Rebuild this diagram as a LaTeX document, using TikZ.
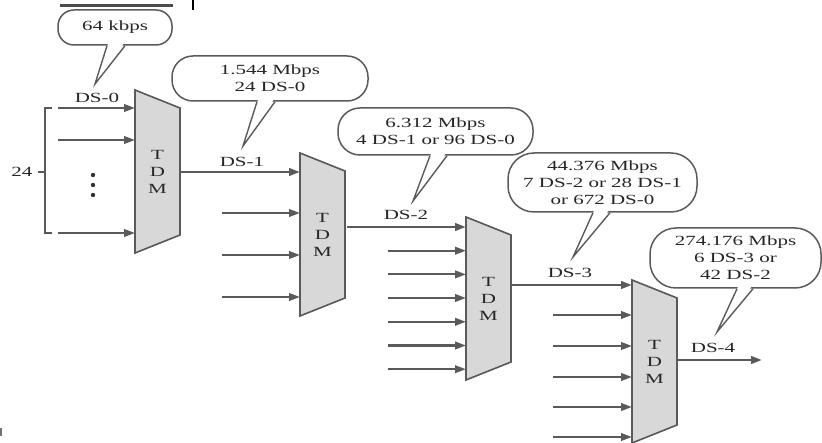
\documentclass[tikz,border=0pt]{standalone}
\usepackage{fontspec}
\setmainfont{Liberation Serif}
\usetikzlibrary{arrows.meta,calc}
\definecolor{ln}{HTML}{5A5A5A}
\definecolor{muxfill}{HTML}{D8D8D8}
\newcommand{\wt}[1]{\scalebox{1.5}[1]{#1}}
\newcommand{\tdm}[3]{%
  \draw[muxbody] (#2,#3) -- ++(45,18) -- ++(0,127) -- ++(-45,18) -- cycle;
  \node[txt] (#1) at ($(#2,#3)+(22.5,81.5)$) {\wt{T}\\\wt{D}\\\wt{M}};
}
\newcommand{\callptr}[3]{% callout name, base offsets, tip
  \fill[white] ($(#1.south)+(#2)+(1.2,-2.4)$) -- ($(#1.south)+(#3)+(-1.2,-2.4)$) -- (#1-tip) -- cycle;
  \draw[ptr] ($(#1.south)+(#2)$) -- (#1-tip) -- ($(#1.south)+(#3)$);
}
\begin{document}
\begin{tikzpicture}[x=1pt,y=-1pt,
  txt/.style={font=\fontsize{14}{17}\selectfont, inner sep=0pt, align=center, text=black!85},
  callout/.style={txt, draw=ln, line width=1.5pt, rounded corners=18pt, fill=white},
  muxbody/.style={draw=ln, fill=muxfill, line width=1.6pt, line join=miter},
  sig/.style={draw=ln, line width=2.2pt, -{Triangle[length=11pt,width=7.5pt]}},
  trunk/.style={sig, line width=2.6pt},
  ptr/.style={draw=ln, line width=1.4pt, line join=miter},
]
\useasboundingbox (0,0) rectangle (822,443);
\fill[white] (0,0) rectangle (822,443);

% stray marks at the edges of the scan
\draw[black!70, line width=3pt] (60,6) -- (173,6);
\draw[black, line width=2pt] (193,0) -- (193,10);
\draw[black!55, line width=1.5pt] (1,428) -- (1,436);

% multiplexers
\tdm{m1}{135}{90}
\tdm{m2}{300}{153}
\tdm{m3}{466}{217}
\tdm{m4}{632}{280}

% 24 DS-0 inputs
\draw[ln, line width=1.6pt] (52,108) -- (45,108) -- (45,233) -- (52,233);
\draw[ln, line width=1.4pt] (38,172) -- (45,172);
\node[txt] (n24) at (22,172) {\wt{24}};
\foreach \y [count=\i] in {108,140,233} {
  \coordinate (a\i) at (58,\y); \coordinate (b\i) at (135,\y);
  \draw[sig] (a\i) -- (b\i);
}
\foreach \y in {175,185,195} \fill[black!80] (93,\y) circle (2.2);

% mux 2 inputs
\coordinate (o1) at (180,172); \coordinate (i21) at (300,172);
\draw[trunk] (o1) -- (i21);
\foreach \y [count=\i] in {213,255,297} {
  \coordinate (c\i) at (222,\y); \coordinate (d\i) at (300,\y);
  \draw[sig] (c\i) -- (d\i);
}
% mux 3 inputs
\coordinate (o2) at (347,227); \coordinate (i31) at (466,227);
\draw[trunk] (o2) -- (i31);
\foreach \y [count=\i] in {250.7,274.4,298,321.8,345.5,369.2} {
  \coordinate (e\i) at (388,\y); \coordinate (f\i) at (466,\y);
  \draw[sig] (e\i) -- (f\i);
}
% mux 4 inputs
\coordinate (o3) at (512,285); \coordinate (i41) at (632,285);
\draw[trunk] (o3) -- (i41);
\foreach \y [count=\i] in {315,346,377,407,437} {
  \coordinate (g\i) at (553,\y); \coordinate (h\i) at (632,\y);
  \draw[sig] (g\i) -- (h\i);
}
% DS-4 output
\coordinate (o4) at (677,360); \coordinate (end4) at (762,360);
\draw[trunk] (o4) -- (end4);

% signal labels
\node[txt] (ds0) at (97,98) {\wt{DS-0}};
\node[txt] (ds1) at (242,162) {\wt{DS-1}};
\node[txt] (ds2) at (406,215) {\wt{DS-2}};
\node[txt] (ds3) at (570,273) {\wt{DS-3}};
\node[txt] (ds4) at (713,348) {\wt{DS-4}};

% callouts
\node[callout, rounded corners=16pt, minimum width=114pt, minimum height=35pt] (c1) at (115,27.5) {\wt{64 kbps}};
\node[callout, rounded corners=21pt, minimum width=196pt, minimum height=45pt] (c2) at (270,78.5) {\wt{1.544 Mbps}\\\wt{24 DS-0}};
\node[callout, rounded corners=22pt, minimum width=195pt, minimum height=47pt] (c3) at (435.5,131.5) {\wt{6.312 Mbps}\\\wt{4 DS-1 or 96 DS-0}};
\node[callout, rounded corners=26pt, minimum width=189pt, minimum height=59pt] (c4) at (602.5,182.5) {\wt{44.376 Mbps}\\\wt{7 DS-2 or 28 DS-1}\\\wt{or 672 DS-0}};
\node[callout, rounded corners=26pt, minimum width=171pt, minimum height=60pt] (c5) at (735.5,258) {\wt{274.176 Mbps}\\\wt{6 DS-3 or}\\\wt{42 DS-2}};

\coordinate (c1-tip) at (95,84);
\coordinate (c2-tip) at (243,146);
\coordinate (c3-tip) at (413,201);
\coordinate (c4-tip) at (573,257);
\coordinate (c5-tip) at (717,332);
\callptr{c1}{-8,0}{10,0}
\callptr{c2}{-13,0}{5,0}
\callptr{c3}{-5.5,0}{11.5,0}
\callptr{c4}{-9.5,0}{7.5,0}
\callptr{c5}{1.5,0}{17.5,0}
\end{tikzpicture}
\end{document}
